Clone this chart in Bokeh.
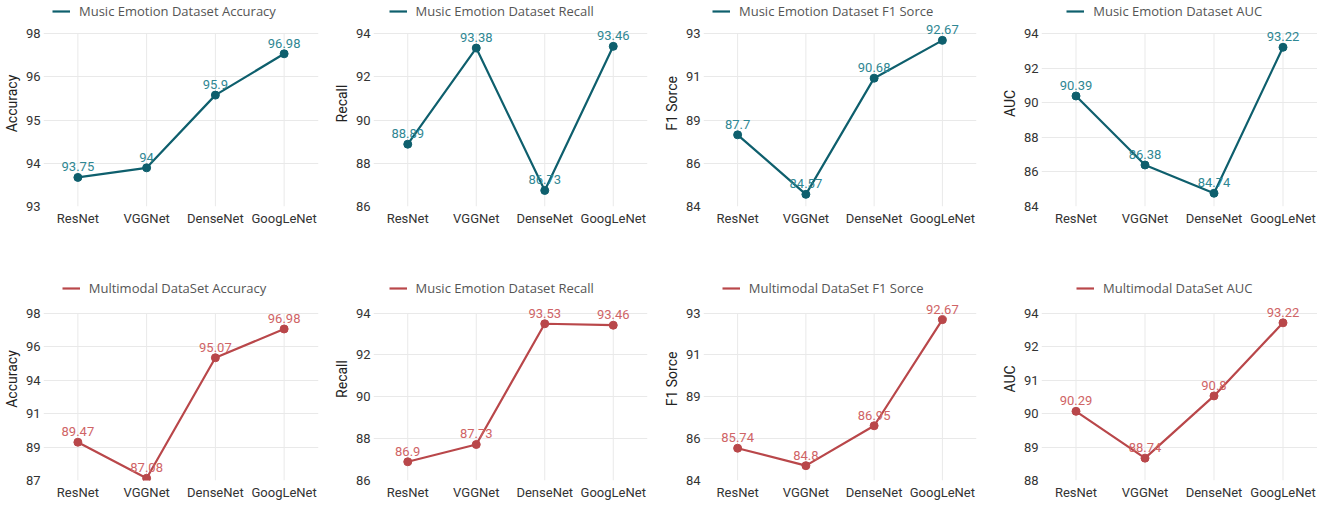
import numpy as np
from bokeh.plotting import figure
from bokeh.models import (ColumnDataSource, Range1d, FixedTicker, Legend,
                          LegendItem, LabelSet)
from bokeh.layouts import column, row
from bokeh.core.properties import value
from bokeh.embed import file_html
from bokeh.resources import INLINE

# ---------------- data ----------------
models = ["ResNet", "VGGNet", "DenseNet", "GoogLeNet"]

music_accuracy = [93.75, 94, 95.9, 96.98]
music_recall = [88.89, 93.38, 86.73, 93.46]
music_f1 = [87.7, 84.57, 90.68, 92.67]
music_auc = [90.39, 86.38, 84.74, 93.22]

multi_accuracy = [89.47, 87.08, 95.07, 96.98]
multi_recall = [86.9, 87.73, 93.53, 93.46]
multi_f1 = [85.74, 84.8, 86.95, 92.67]
multi_auc = [90.29, 88.74, 90.8, 93.22]

legend_labels_top = ["Music Emotion Dataset Accuracy", "Music Emotion Dataset Recall",
                     "Music Emotion Dataset F1 Sorce", "Music Emotion Dataset AUC"]
legend_labels_bottom = ["Multimodal DataSet Accuracy", "Music Emotion Dataset Recall",
                        "Multimodal DataSet F1 Sorce", "Multimodal DataSet AUC"]
y_titles = ["Accuracy", "Recall", "F1 Sorce", "AUC"]

# axis bounds (lowest / highest gridline) and the tick labels shown
bounds_top = [(92.99, 97.51), (85.98, 94.06), (83.93, 93.03), (83.97, 94.02)]
bounds_bottom = [(86.93, 98.03), (86.0, 94.04), (84.0, 93.02), (88.0, 93.54)]
tick_labels_top = [["93", "94", "95", "96", "98"],
                   ["86", "88", "90", "92", "94"],
                   ["84", "86", "89", "91", "93"],
                   ["84", "86", "88", "90", "92", "94"]]
tick_labels_bottom = [["87", "89", "91", "94", "96", "98"],
                      ["86", "88", "90", "92", "94"],
                      ["84", "86", "89", "91", "93"],
                      ["88", "89", "90", "91", "92", "94"]]

# ---------------- style ----------------
TEAL = "#0e5f6d"
TEAL_LABEL = "#2f8793"
RED = "#b9474a"
RED_LABEL = "#cf6466"
GRID = "#e9e9e9"
TICK_FONT = "Roboto"
LEGEND_FONT = "Open Sans"

fig_widths = [330, 330, 325, 332]
border_left = [40, 38, 36, 56]
border_right = [12, 13, 9, 0]

# (figure height, bottom border, px from frame top to top gridline, legend top offset)
ROW_TOP = (277, 71, 33, 2)
ROW_BOT = (225, 20, 36, 4)
LEGEND_H = 18
LEGEND_CENTER = 120   # legend centre, px right of the frame's left edge


def make_panel(vals, legend_label, y_title, bnds, tlabels, color, lcolor, i, geom):
    height, bb, top_gap, leg_top = geom
    w = fig_widths[i]
    lo, hi = bnds
    frame_h = height - bb
    end = lo + (hi - lo) * frame_h / (frame_h - top_gap)
    p = figure(x_range=models, y_range=Range1d(lo, end), width=w, height=height,
               output_backend="svg", toolbar_location=None,
               min_border_left=border_left[i], min_border_right=border_right[i],
               min_border_top=0, min_border_bottom=bb,
               outline_line_color=None, background_fill_color="white",
               border_fill_color="white")
    # vertical grid lines limited to the tick span
    p.segment(x0=models, x1=models, y0=lo, y1=hi, line_color=GRID, line_width=1)
    src = ColumnDataSource(dict(model=models, val=vals,
                                txt=[f"{v:g}" for v in vals]))
    ln = p.line(x="model", y="val", source=src, line_color=color, line_width=2.2)
    p.scatter(x="model", y="val", source=src, size=8, fill_color=color,
              line_color=color)
    labels = LabelSet(x="model", y="val", text="txt", source=src, y_offset=6,
                      text_align="center", text_baseline="bottom",
                      text_color=lcolor, text_font_size="13px",
                      text_font=value(TICK_FONT))
    p.add_layout(labels)

    ticks = [round(t, 4) for t in np.linspace(lo, hi, len(tlabels))]
    p.yaxis.ticker = FixedTicker(ticks=ticks)
    p.yaxis.major_label_overrides = {t: s for t, s in zip(ticks, tlabels)}
    p.yaxis.axis_label = y_title
    p.yaxis.axis_label_text_font_style = "normal"
    p.yaxis.axis_label_text_font_size = "14px"
    p.yaxis.axis_label_text_font = TICK_FONT
    p.yaxis.axis_label_text_color = "#222222"
    p.yaxis.axis_label_standoff = 3
    for ax in (p.xaxis[0], p.yaxis[0]):
        ax.axis_line_color = None
        ax.major_tick_line_color = None
        ax.minor_tick_line_color = None
        ax.major_tick_out = 0
        ax.major_tick_in = 0
        ax.major_label_text_font = TICK_FONT
        ax.major_label_text_font_size = "13px"
        ax.major_label_text_color = "#333333"
        ax.major_label_standoff = 3
    p.xaxis.major_label_standoff = 4
    p.xgrid.visible = False
    p.ygrid.grid_line_color = GRID

    est_w = 27 + 6.5 * len(legend_label)
    lx = LEGEND_CENTER - est_w / 2
    legend = Legend(items=[LegendItem(label=legend_label, renderers=[ln])],
                    location=(lx, frame_h - leg_top - LEGEND_H), orientation="horizontal",
                    border_line_color=None, background_fill_alpha=0,
                    padding=0, margin=0, glyph_width=18, glyph_height=LEGEND_H,
                    label_height=LEGEND_H, label_standoff=9,
                    label_text_font_size="13px", label_text_color="#555555",
                    label_text_font=LEGEND_FONT)
    p.add_layout(legend)
    return p


top_vals = [music_accuracy, music_recall, music_f1, music_auc]
bot_vals = [multi_accuracy, multi_recall, multi_f1, multi_auc]

top_row = [make_panel(top_vals[i], legend_labels_top[i], y_titles[i], bounds_top[i],
                      tick_labels_top[i], TEAL, TEAL_LABEL, i, ROW_TOP)
           for i in range(4)]
bot_row = [make_panel(bot_vals[i], legend_labels_bottom[i], y_titles[i], bounds_bottom[i],
                      tick_labels_bottom[i], RED, RED_LABEL, i, ROW_BOT)
           for i in range(4)]

layout = column(row(*top_row), row(*bot_row))
open("out.html", "w").write(file_html(layout, INLINE))
